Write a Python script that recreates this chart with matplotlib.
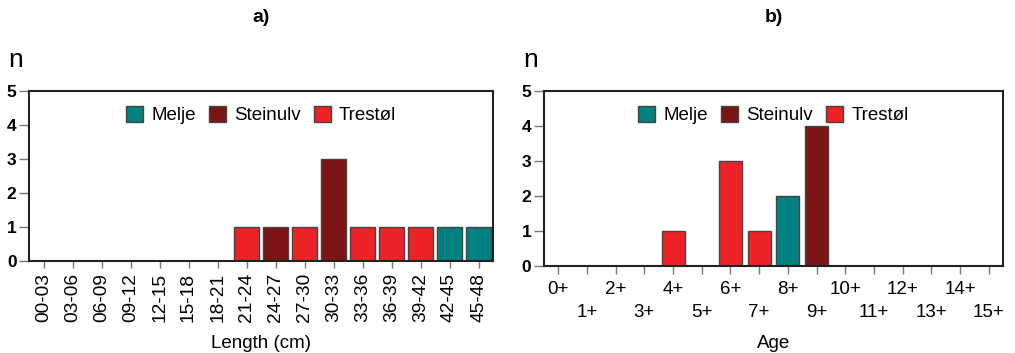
import matplotlib.pyplot as plt
from matplotlib.patches import Patch

length_bins = ["00-03", "03-06", "06-09", "09-12", "12-15", "15-18", "18-21", "21-24",
               "24-27", "27-30", "30-33", "33-36", "36-39", "39-42", "42-45", "45-48"]
length_n = [0, 0, 0, 0, 0, 0, 0, 1, 1, 1, 3, 1, 1, 1, 1, 1]
length_site = [None] * 7 + ["Trestøl", "Steinulv", "Trestøl", "Steinulv", "Trestøl",
                            "Trestøl", "Trestøl", "Melje", "Melje"]

age_bins = [f"{i}+" for i in range(16)]
age_n = [0, 0, 0, 0, 1, 0, 3, 1, 2, 4, 0, 0, 0, 0, 0, 0]
age_site = [None, None, None, None, "Trestøl", None, "Trestøl", "Trestøl", "Melje",
            "Steinulv", None, None, None, None, None, None]

sites = ["Melje", "Steinulv", "Trestøl"]
colors = {"Melje": "#008080", "Steinulv": "#7d1517", "Trestøl": "#ed2226"}

plt.rcParams["font.family"] = ["Liberation Sans", "DejaVu Sans"]

fig = plt.figure(figsize=(10.15, 3.53), dpi=100)
W, H = 1015, 353
ax1 = fig.add_axes([29 / W, 1 - 261 / H, 464 / W, 170 / H])
ax2 = fig.add_axes([544 / W, 1 - 266 / H, 459 / W, 175 / H])


def draw(ax, n, site, letter, xlabel, width, axw, axh):
    x = range(len(n))
    for xi, v, s in zip(x, n, site):
        if v > 0:
            ax.bar(xi, v, width=width, color=colors[s], edgecolor="#444444",
                   linewidth=1.0, zorder=2)
    ax.set_xlim(-0.5, len(n) - 0.5)
    ax.set_ylim(0, 5)
    ax.set_yticks(range(6))
    ax.set_yticklabels([str(i) for i in range(6)], fontweight="bold", fontsize=12.5)
    for sp in ax.spines.values():
        sp.set_linewidth(1.5)
        sp.set_color("#222222")
    ax.tick_params(axis="y", direction="out", length=7, width=1, color="#777777", pad=2)
    ax.tick_params(axis="x", direction="out", length=5, width=1, color="#777777")
    ax.set_xlabel(xlabel, fontsize=13.5, labelpad=9)
    ax.text(-21 / axw, 1 + 24 / axh, "n", transform=ax.transAxes, fontsize=19,
            ha="left", va="baseline")
    ax.text(0.5, 1 + 74 / axh, letter, transform=ax.transAxes, fontsize=14,
            fontweight="bold", ha="center", va="center")
    handles = [Patch(facecolor=colors[s], edgecolor="#444444", label=s) for s in sites]
    ax.legend(handles=handles, loc="upper center", bbox_to_anchor=(0.5, 1.01), ncol=3,
              frameon=False, fontsize=13.5, handlelength=0.9, handleheight=0.9,
              handletextpad=0.45, columnspacing=0.7)


draw(ax1, length_n, length_site, "a)", "Length (cm)", 0.83, 464, 170)
ax1.set_xticks(range(len(length_bins)))
ax1.set_xticklabels(length_bins, rotation=90, fontsize=13.8)

draw(ax2, age_n, age_site, "b)", "Age", 0.8, 459, 175)
ax2.set_xticks(range(len(age_bins)))
ax2.set_xticklabels([lab if i % 2 == 0 else "\n" + lab for i, lab in enumerate(age_bins)],
                    fontsize=13.5, linespacing=1.45)
ax2.tick_params(axis="x", length=6, pad=5)
ax2.xaxis.labelpad = 10

fig.savefig("out.png", dpi=100)
